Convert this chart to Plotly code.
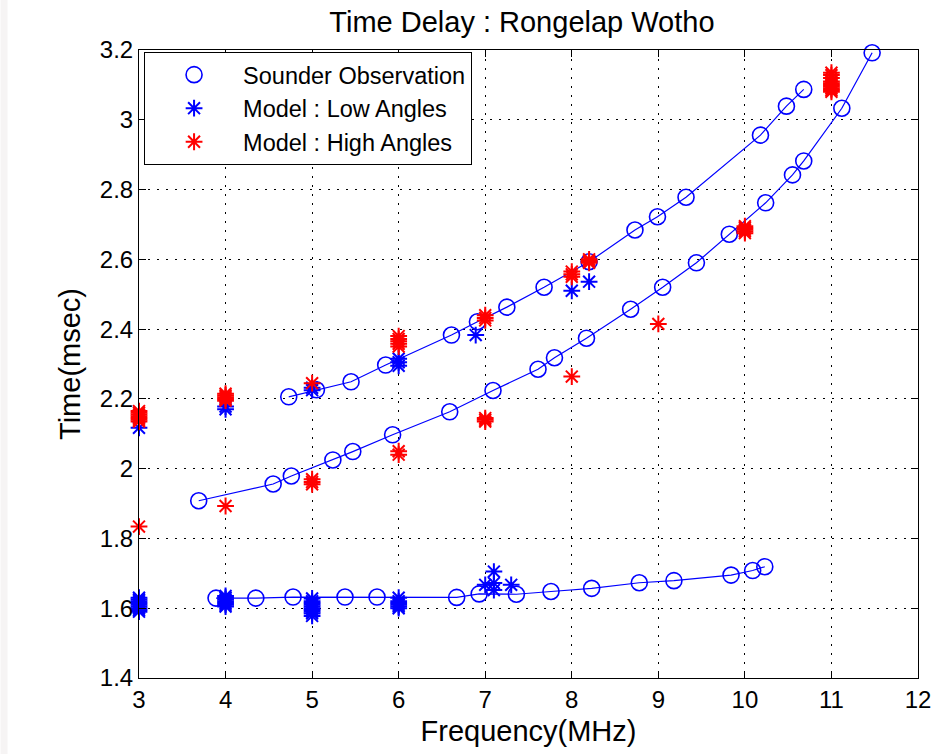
import plotly.graph_objects as go

# Sounder observations, three propagation traces (frequency MHz, delay msec)
obs_low_f = [3.89, 4.35, 4.78, 5.38, 5.75, 6.67, 6.93, 7.36, 7.76, 8.23, 8.78, 9.18, 9.84, 10.09, 10.23]
obs_low_t = [1.629, 1.629, 1.632, 1.632, 1.632, 1.631, 1.641, 1.640, 1.648, 1.657, 1.673, 1.679, 1.695, 1.708, 1.719]

obs_mid_f = [3.69, 4.55, 4.76, 5.24, 5.47, 5.93, 6.59, 7.09, 7.61, 7.80, 8.17, 8.68, 9.05, 9.44, 9.82,
             10.24, 10.55, 10.68, 11.12, 11.47]
obs_mid_t = [1.908, 1.956, 1.979, 2.025, 2.049, 2.097, 2.163, 2.224, 2.285, 2.318, 2.374, 2.457, 2.520, 2.590,
             2.672, 2.762, 2.842, 2.882, 3.033, 3.192]

obs_high_f = [4.73, 5.05, 5.45, 5.85, 6.61, 6.91, 7.25, 7.68, 8.20, 8.73, 8.99, 9.32, 10.18, 10.48, 10.68]
obs_high_t = [2.206, 2.226, 2.249, 2.297, 2.383, 2.421, 2.463, 2.520, 2.593, 2.684, 2.722, 2.778, 2.956,
              3.039, 3.087]

# Model results, low elevation angles
low_f = [3, 3, 3, 3, 3, 3, 3, 3, 3, 3,
         4, 4, 4, 4, 4, 4, 4, 4, 4,
         5, 5, 5, 5, 5, 5, 5, 5, 5, 5, 5, 5,
         6, 6, 6, 6, 6, 6, 6, 6, 6,
         6.89, 7.0, 7.10, 7.10, 7.10, 7.30,
         8.0, 8.2]
low_t = [1.590, 1.595, 1.600, 1.605, 1.610, 1.615, 1.620, 1.625, 1.630, 2.117,
         1.605, 1.610, 1.615, 1.620, 1.625, 1.630, 1.635, 2.170, 2.178,
         1.578, 1.585, 1.590, 1.595, 1.600, 1.605, 1.610, 1.615, 1.620, 1.628, 2.225, 2.232,
         1.600, 1.605, 1.610, 1.615, 1.620, 1.630, 2.295, 2.305, 2.315,
         2.383, 1.667, 1.705, 1.672, 1.652, 1.667,
         2.510, 2.536]

# Model results, high elevation angles
high_f = [3, 3, 3, 3, 3, 3, 3, 3,
          4, 4, 4, 4, 4, 4,
          5, 5, 5, 5,
          6, 6, 6, 6, 6, 6, 6,
          7, 7, 7, 7, 7, 7,
          8, 8, 8, 8, 8.2, 8.2, 8.2,
          9,
          10, 10, 10, 10, 10,
          11, 11, 11, 11, 11, 11, 11, 11, 11, 11]
high_t = [2.135, 2.140, 2.145, 2.150, 2.155, 2.160, 2.165, 1.834,
          2.195, 2.200, 2.205, 2.210, 2.215, 1.893,
          2.245, 1.955, 1.962, 1.970,
          2.350, 2.358, 2.365, 2.372, 2.380, 2.040, 2.050,
          2.425, 2.432, 2.440, 2.135, 2.140, 2.145,
          2.550, 2.557, 2.565, 2.264, 2.590, 2.595, 2.600,
          2.415,
          2.675, 2.680, 2.685, 2.690, 2.695,
          3.080, 3.085, 3.090, 3.095, 3.100, 3.105, 3.110, 3.120, 3.128, 3.135]

x_ticks = [3, 4, 5, 6, 7, 8, 9, 10, 11, 12]
y_ticks = [1.4, 1.6, 1.8, 2.0, 2.2, 2.4, 2.6, 2.8, 3.0, 3.2]

BLUE = "#0000ff"
RED = "#ff0000"
FONT = "Liberation Sans, Arial, Helvetica, sans-serif"

fig = go.Figure()

# fitted lines through each observed trace
for fx, ft in ((obs_low_f, obs_low_t), (obs_mid_f, obs_mid_t), (obs_high_f, obs_high_t)):
    fig.add_trace(go.Scatter(x=fx, y=ft, mode="lines", line=dict(color=BLUE, width=1.2),
                             showlegend=False, hoverinfo="skip", cliponaxis=False))

all_obs_f = obs_low_f + [None] + obs_mid_f + [None] + obs_high_f
all_obs_t = obs_low_t + [None] + obs_mid_t + [None] + obs_high_t
fig.add_trace(go.Scatter(
    x=all_obs_f, y=all_obs_t, mode="markers", name="Sounder Observation", cliponaxis=False,
    marker=dict(symbol="circle-open", size=16, color=BLUE, line=dict(width=1.6, color=BLUE)),
))
fig.add_trace(go.Scatter(
    x=low_f, y=low_t, mode="markers", name="Model : Low Angles", cliponaxis=False,
    marker=dict(symbol="asterisk-open", size=14, color=BLUE, line=dict(width=2, color=BLUE)),
))
fig.add_trace(go.Scatter(
    x=high_f, y=high_t, mode="markers", name="Model : High Angles", cliponaxis=False,
    marker=dict(symbol="asterisk-open", size=14, color=RED, line=dict(width=2, color=RED)),
))

axis_common = dict(
    showline=True, linecolor="black", linewidth=1, mirror="allticks",
    ticks="inside", ticklen=7, tickcolor="black", tickwidth=1,
    showgrid=True, gridcolor="black", gridwidth=1, griddash="2px,7px",
    zeroline=False, tickfont=dict(family=FONT, size=24, color="black"),
)

fig.update_layout(
    width=943, height=754,
    margin=dict(l=139, r=22, t=50, b=76),
    paper_bgcolor="white", plot_bgcolor="white",
    font=dict(family=FONT, color="black"),
    title=dict(text="Time Delay : Rongelap Wotho", x=0.5535, xanchor="center", y=0.971, yanchor="middle",
               font=dict(family=FONT, size=29, color="black")),
    xaxis=dict(range=[3, 12], tickvals=x_ticks,
               title=dict(text="Frequency(MHz)", font=dict(family=FONT, size=29, color="black"), standoff=8),
               **axis_common),
    yaxis=dict(range=[1.4, 3.2], tickvals=y_ticks, ticktext=[f"{v:g}" for v in y_ticks],
               title=dict(text="Time(msec)", font=dict(family=FONT, size=29, color="black"), standoff=10),
               **axis_common),
    legend=dict(x=0.0065, y=0.997, xanchor="left", yanchor="top", bgcolor="white",
                bordercolor="black", borderwidth=1, itemwidth=88,
                font=dict(family=FONT, size=23.5, color="black"), tracegroupgap=0),
    shapes=[dict(type="rect", xref="paper", yref="paper", x0=-139 / 782, x1=-132 / 782,
                 y0=-76 / 628, y1=704 / 628, fillcolor="#f6f4f4", line=dict(width=0), layer="below")],
    showlegend=True,
)

fig.write_html("out.html")
